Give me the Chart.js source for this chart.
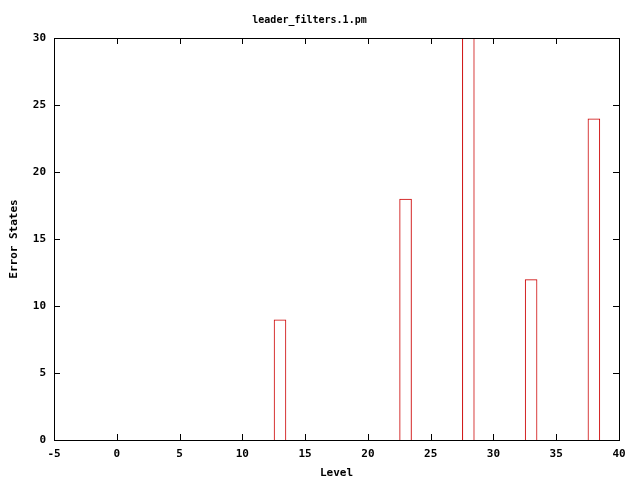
<!DOCTYPE html>
<html>
<head>
<meta charset="utf-8">
<script src="https://cdn.jsdelivr.net/npm/chart.js@4/dist/chart.umd.min.js"></script>
<style>
  html, body { margin: 0; padding: 0; background: #fff; }
  #wrap { width: 640px; height: 480px; }
</style>
</head>
<body>
<div id="wrap"><canvas id="errChart" width="640" height="480"></canvas></div>
<script>
const levels = [13, 23, 28, 33, 38];
const errorStates = [9, 18, 30, 12, 24];
const xTicks = [-5, 0, 5, 10, 15, 20, 25, 30, 35, 40];
const yTicks = [0, 5, 10, 15, 20, 25, 30];

const monoFont = "'DejaVu Sans Mono', 'Liberation Mono', monospace";

// gnuplot style: inward ticks on all four sides + full frame
const frameTicks = {
    id: "frameTicks",
    afterDraw(chart) {
        const { ctx, chartArea: a, scales } = chart;
        ctx.save();
        ctx.strokeStyle = "#000";
        ctx.lineWidth = 1;
        ctx.strokeRect(a.left + 0.5, a.top + 0.5, a.right - a.left, a.bottom - a.top);
        ctx.beginPath();
        xTicks.forEach(v => {
            const px = Math.round(scales.x.getPixelForValue(v)) + 0.5;
            ctx.moveTo(px, a.bottom); ctx.lineTo(px, a.bottom - 6);
            ctx.moveTo(px, a.top); ctx.lineTo(px, a.top + 6);
        });
        yTicks.forEach(v => {
            const py = Math.round(scales.y.getPixelForValue(v)) + 0.5;
            ctx.moveTo(a.left, py); ctx.lineTo(a.left + 6, py);
            ctx.moveTo(a.right, py); ctx.lineTo(a.right - 6, py);
        });
        ctx.stroke();
        ctx.restore();
    }
};

new Chart(document.getElementById("errChart"), {
    type: "bar",
    data: {
        datasets: [{
            data: levels.map((x, i) => ({ x: x, y: errorStates[i] })),
            backgroundColor: "rgba(0,0,0,0)",
            borderColor: "#cc0000",
            borderWidth: 1,
            borderSkipped: "bottom",
            categoryPercentage: 1,
            barPercentage: 0.2
        }]
    },
    options: {
        responsive: false,
        animation: false,
        layout: { padding: { left: 0, right: 21, top: 0, bottom: 0 } },
        plugins: {
            legend: { display: false },
            tooltip: { enabled: false },
            title: {
                display: true,
                text: "leader_filters.1.pm",
                color: "#000",
                font: { family: monoFont, size: 10, weight: "bold", lineHeight: 1.2 },
                padding: { top: 14, bottom: 12 }
            }
        },
        scales: {
            x: {
                type: "linear",
                min: -5,
                max: 40,
                offset: false,
                grid: { display: false, drawTicks: false },
                border: { display: false },
                afterBuildTicks: s => { s.ticks = xTicks.map(v => ({ value: v })); },
                afterFit: s => { s.height = 40; },
                ticks: {
                    color: "#000",
                    padding: 8,
                    maxRotation: 0,
                    font: { family: monoFont, size: 11, weight: "bold" }
                },
                title: {
                    display: true,
                    text: "Level",
                    color: "#000",
                    padding: { top: 0, bottom: 0 },
                    font: { family: monoFont, size: 11, weight: "bold" }
                }
            },
            y: {
                min: 0,
                max: 30,
                grid: { display: false, drawTicks: false },
                border: { display: false },
                afterBuildTicks: s => { s.ticks = yTicks.map(v => ({ value: v })); },
                afterFit: s => { s.width = 54; },
                ticks: {
                    color: "#000",
                    padding: 8,
                    font: { family: monoFont, size: 11, weight: "bold" }
                },
                title: {
                    display: true,
                    text: "Error States",
                    color: "#000",
                    padding: { top: 8, bottom: 0 },
                    font: { family: monoFont, size: 11, weight: "bold" }
                }
            }
        }
    },
    plugins: [frameTicks]
});
</script>
</body>
</html>
